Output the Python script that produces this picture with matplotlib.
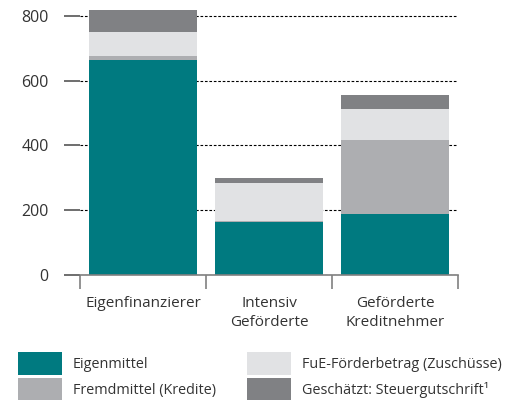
import matplotlib.pyplot as plt
from matplotlib.patches import Patch

# Gruppen und Finanzierungsquellen
groups = ['Eigenfinanzierer', 'Intensiv\nGeförderte', 'Geförderte\nKreditnehmer']
eigenmittel = [664, 165, 188]
fremdmittel = [12, 2, 229]
zuschuesse = [74, 117, 96]
steuer = [68, 15, 43]

series = [eigenmittel, fremdmittel, zuschuesse, steuer]
labels = ['Eigenmittel', 'Fremdmittel (Kredite)',
          'FuE-Förderbetrag (Zuschüsse)', 'Geschätzt: Steuergutschrift\u00b9']
colors = ['#007a80', '#adaeb1', '#e1e2e4', '#808184']

plt.rcParams['font.family'] = ['Open Sans', 'DejaVu Sans']
plt.rcParams['font.size'] = 11
text_color = '#333333'

fig = plt.figure(figsize=(5.15, 4.0), dpi=100)
ax = fig.add_axes([80 / 515, 125 / 400, 378 / 515, 272 / 400])

x = list(range(len(groups)))
bottom = [0] * len(groups)
for vals, col in zip(series, colors):
    ax.bar(x, vals, width=0.85, bottom=bottom, color=col, zorder=2)
    bottom = [b + v for b, v in zip(bottom, vals)]

ax.set_xlim(-0.5, 2.5)
ax.set_ylim(0, 840)
ax.set_yticks([0, 200, 400, 600, 800])

# gestrichelte Hilfslinien hinter den Balken
ax.grid(axis='y', color='black', linestyle=(0, (2.4, 1.6)), linewidth=0.8, zorder=0)
ax.set_axisbelow(True)

for side in ['top', 'right', 'left']:
    ax.spines[side].set_visible(False)
ax.spines['bottom'].set_color('#808080')
ax.spines['bottom'].set_linewidth(1.2)

ax.tick_params(axis='y', length=11.5, width=1.2, color='#555555', pad=11,
               labelcolor=text_color, labelsize=11.5)

# Kategorienamen in der Mitte, Teilstriche an den Grenzen
ax.set_xticks(x)
ax.set_xticklabels(groups, linespacing=1.35)
ax.set_xticks([-0.5, 0.5, 1.5, 2.5], minor=True)
ax.tick_params(axis='x', which='major', length=0, pad=15, labelcolor=text_color)
ax.tick_params(axis='x', which='minor', length=10, width=1.2, color='#808080')

handles = [Patch(facecolor=c, edgecolor='none') for c in colors]
fig.legend(handles, labels, ncol=2, loc='upper left',
           bbox_to_anchor=(18 / 515, 1 - 352 / 400), frameon=False,
           prop={'size': 10.4},
           borderpad=0, borderaxespad=0, handlelength=3.05, handleheight=2.05,
           handletextpad=0.75, columnspacing=2.15, labelspacing=0.22,
           labelcolor=text_color)

fig.savefig('out.png', dpi=100)
